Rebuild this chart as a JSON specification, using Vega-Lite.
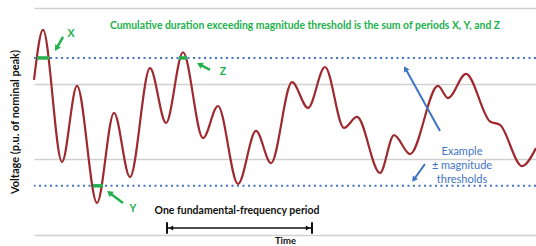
{
  "$schema": "https://vega.github.io/schema/vega-lite/v6.json",
  "width": 502,
  "height": 227,
  "autosize": {"type": "none"},
  "padding": {"left": 34, "top": 8, "right": 0, "bottom": 11},
  "background": "white",
  "config": {"view": {"stroke": null}, "font": "Lato"},
  "layer": [
    {
      "data": {"values": [{"v": 4.68}, {"v": 1.3}]},
      "mark": {"type": "rule", "color": "#4472c4", "strokeWidth": 2, "strokeDash": [2, 3.5]},
      "encoding": {
        "y": {"field": "v", "type": "quantitative", "scale": {"domain": [0, 6], "nice": false, "zero": false},
          "axis": {"title": "Voltage (p.u. of nominal peak)", "values": [0, 1, 2, 3, 4, 5, 6], "grid": true, "gridColor": "#d0d0d0", "gridWidth": 1.5,
            "labels": false, "ticks": false, "domain": false, "titleFontSize": 11, "titleFontWeight": "bold", "titleColor": "#111111", "titlePadding": 14}}
      }
    },
    {
      "data": {"values": [
        {"t": 0, "v": 4.1}, {"t": 9, "v": 5.42}, {"t": 28, "v": 1.93}, {"t": 43, "v": 3.94},
        {"t": 63, "v": 0.85}, {"t": 80, "v": 3.23}, {"t": 96, "v": 1.53}, {"t": 116, "v": 4.41},
        {"t": 132, "v": 2.96}, {"t": 149, "v": 4.83}, {"t": 169, "v": 2.56}, {"t": 184, "v": 3.41},
        {"t": 204, "v": 1.35}, {"t": 222, "v": 2.75}, {"t": 237, "v": 1.9}, {"t": 258, "v": 4.04},
        {"t": 274, "v": 3.36}, {"t": 291, "v": 4.44}, {"t": 310, "v": 2.83}, {"t": 323, "v": 3.12},
        {"t": 346, "v": 1.64}, {"t": 360, "v": 2.64}, {"t": 376, "v": 2.14}, {"t": 404, "v": 3.94},
        {"t": 414, "v": 3.62}, {"t": 432, "v": 4.26}, {"t": 456, "v": 3.0}, {"t": 466, "v": 2.91},
        {"t": 488, "v": 1.82}, {"t": 502, "v": 2.3}
      ]},
      "mark": {"type": "line", "interpolate": "monotone", "color": "#9e2a2f", "strokeWidth": 2.2},
      "encoding": {
        "x": {"field": "t", "type": "quantitative", "scale": {"domain": [0, 502], "nice": false, "zero": false},
          "axis": {"title": "Time", "grid": false, "labels": false, "ticks": false, "domain": false, "titleFontSize": 9.5, "titleFontWeight": "bold", "titleColor": "#111111", "titlePadding": 0}},
        "y": {"field": "v", "type": "quantitative"}
      }
    },
    {
      "data": {"values": [{"t": 3, "t2": 15, "v": 4.68}, {"t": 59, "t2": 69, "v": 1.3}, {"t": 145, "t2": 153, "v": 4.68}]},
      "mark": {"type": "rule", "color": "#22b14c", "strokeWidth": 3.5},
      "encoding": {
        "x": {"field": "t", "type": "quantitative"}, "x2": {"field": "t2"},
        "y": {"field": "v", "type": "quantitative"}
      }
    },
    {
      "data": {"values": [
        {"t": 29, "v": 5.234, "t2": 22.5, "v2": 4.933},
        {"t": 176, "v": 4.362, "t2": 165.6, "v2": 4.51},
        {"t": 89, "v": 0.846, "t2": 75.4, "v2": 1.116}
      ]},
      "mark": {"type": "rule", "color": "#22b14c", "strokeWidth": 2.5},
      "encoding": {
        "x": {"field": "t", "type": "quantitative"}, "x2": {"field": "t2"},
        "y": {"field": "v", "type": "quantitative"}, "y2": {"field": "v2"}
      }
    },
    {
      "data": {"values": [{"t": 22.5, "v": 4.933}]},
      "mark": {"type": "point", "shape": "triangle-up", "filled": true, "opacity": 1, "size": 45, "angle": 210, "color": "#22b14c"},
      "encoding": {"x": {"field": "t", "type": "quantitative"}, "y": {"field": "v", "type": "quantitative"}}
    },
    {
      "data": {"values": [{"t": 165.6, "v": 4.51}]},
      "mark": {"type": "point", "shape": "triangle-up", "filled": true, "opacity": 1, "size": 45, "angle": 298, "color": "#22b14c"},
      "encoding": {"x": {"field": "t", "type": "quantitative"}, "y": {"field": "v", "type": "quantitative"}}
    },
    {
      "data": {"values": [{"t": 75.4, "v": 1.116}]},
      "mark": {"type": "point", "shape": "triangle-up", "filled": true, "opacity": 1, "size": 45, "angle": 307, "color": "#22b14c"},
      "encoding": {"x": {"field": "t", "type": "quantitative"}, "y": {"field": "v", "type": "quantitative"}}
    },
    {
      "data": {"values": [
        {"t": 406, "v": 2.749, "t2": 371.4, "v2": 4.399},
        {"t": 391, "v": 1.877, "t2": 379.8, "v2": 1.464}
      ]},
      "mark": {"type": "rule", "color": "#3f74c2", "strokeWidth": 2},
      "encoding": {
        "x": {"field": "t", "type": "quantitative"}, "x2": {"field": "t2"},
        "y": {"field": "v", "type": "quantitative"}, "y2": {"field": "v2"}
      }
    },
    {
      "data": {"values": [{"t": 371.4, "v": 4.399}]},
      "mark": {"type": "point", "shape": "triangle-up", "filled": true, "opacity": 1, "size": 40, "angle": 332, "color": "#3f74c2"},
      "encoding": {"x": {"field": "t", "type": "quantitative"}, "y": {"field": "v", "type": "quantitative"}}
    },
    {
      "data": {"values": [{"t": 379.8, "v": 1.464}]},
      "mark": {"type": "point", "shape": "triangle-up", "filled": true, "opacity": 1, "size": 40, "angle": 216, "color": "#3f74c2"},
      "encoding": {"x": {"field": "t", "type": "quantitative"}, "y": {"field": "v", "type": "quantitative"}}
    },
    {
      "data": {"values": [{"t": 133, "t2": 278, "v": 0.185}]},
      "mark": {"type": "rule", "color": "#111111", "strokeWidth": 1.5},
      "encoding": {
        "x": {"field": "t", "type": "quantitative"}, "x2": {"field": "t2"},
        "y": {"field": "v", "type": "quantitative"}
      }
    },
    {
      "data": {"values": [{"t": 133, "v": 0.34, "v2": 0.03}, {"t": 278, "v": 0.34, "v2": 0.03}]},
      "mark": {"type": "rule", "color": "#111111", "strokeWidth": 2},
      "encoding": {
        "x": {"field": "t", "type": "quantitative"},
        "y": {"field": "v", "type": "quantitative"}, "y2": {"field": "v2"}
      }
    },
    {
      "data": {"values": [{"t": 137, "v": 0.185}]},
      "mark": {"type": "point", "shape": "triangle-up", "filled": true, "opacity": 1, "size": 25, "angle": 270, "color": "#111111"},
      "encoding": {"x": {"field": "t", "type": "quantitative"}, "y": {"field": "v", "type": "quantitative"}}
    },
    {
      "data": {"values": [{"t": 274, "v": 0.185}]},
      "mark": {"type": "point", "shape": "triangle-up", "filled": true, "opacity": 1, "size": 25, "angle": 90, "color": "#111111"},
      "encoding": {"x": {"field": "t", "type": "quantitative"}, "y": {"field": "v", "type": "quantitative"}}
    },
    {
      "data": {"values": [{"t": 271, "v": 5.525, "label": "Cumulative duration exceeding magnitude threshold is the sum of periods X, Y, and Z"}]},
      "mark": {"type": "text", "color": "#22b14c", "fontWeight": "bold", "fontSize": 10.4, "align": "center", "baseline": "middle"},
      "encoding": {"x": {"field": "t", "type": "quantitative"}, "y": {"field": "v", "type": "quantitative"}, "text": {"field": "label"}}
    },
    {
      "data": {"values": [
        {"t": 37, "v": 5.31, "label": "X"},
        {"t": 99, "v": 0.687, "label": "Y"},
        {"t": 189, "v": 4.309, "label": "Z"}
      ]},
      "mark": {"type": "text", "color": "#22b14c", "fontWeight": "bold", "fontSize": 10.5, "align": "center", "baseline": "middle"},
      "encoding": {"x": {"field": "t", "type": "quantitative"}, "y": {"field": "v", "type": "quantitative"}, "text": {"field": "label"}}
    },
    {
      "data": {"values": [{"t": 203, "v": 0.634, "label": "One fundamental-frequency period"}]},
      "mark": {"type": "text", "color": "#111111", "fontWeight": "bold", "fontSize": 10.5, "align": "center", "baseline": "middle"},
      "encoding": {"x": {"field": "t", "type": "quantitative"}, "y": {"field": "v", "type": "quantitative"}, "text": {"field": "label"}}
    },
    {
      "data": {"values": [{"t": 428, "v": 2.194, "label": "Example\n± magnitude\nthresholds"}]},
      "mark": {"type": "text", "color": "#3f74c2", "fontSize": 11, "align": "center", "baseline": "middle", "lineBreak": "\n", "lineHeight": 14},
      "encoding": {"x": {"field": "t", "type": "quantitative"}, "y": {"field": "v", "type": "quantitative"}, "text": {"field": "label"}}
    }
  ]
}
